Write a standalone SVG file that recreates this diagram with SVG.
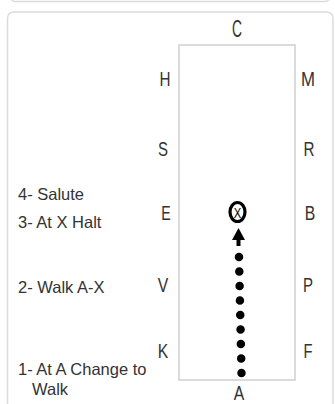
<svg xmlns="http://www.w3.org/2000/svg" width="335" height="404" viewBox="0 0 335 404">
  <style>
    .panel { fill: #fff; stroke: #dcdcdc; stroke-width: 1.5; }
    .arena { fill: none; stroke: #cfcfcf; stroke-width: 1.5; }
    .lt { font-family: "Liberation Sans", Arial, sans-serif; font-size: 19.5px; fill: #333; text-anchor: middle; }
    .big { font-size: 24px; }
    .note { font-family: "Liberation Sans", Arial, sans-serif; font-size: 16.5px; fill: #333; }
    .dots { fill: none; stroke: #000; stroke-width: 8.5; stroke-linecap: round; stroke-dasharray: 0 14.5; }
  </style>
  <defs>
    <marker id="ah" markerUnits="userSpaceOnUse" markerWidth="14" markerHeight="14" refX="0" refY="6.5" orient="auto">
      <path d="M0,0 L12,6.5 L0,13 z" fill="#000"/>
    </marker>
  </defs>
  <rect width="335" height="404" fill="#fff"/>
  <g id="top-panel">
    <rect class="panel" x="10" y="-20" width="320" height="21.5" rx="5"/>
  </g>
  <g id="main-panel">
    <rect class="panel" x="7.5" y="12" width="325.5" height="410" rx="6"/>
  </g>
  <g id="arena">
    <rect class="arena" x="179" y="45" width="116" height="335"/>
  </g>
  <g id="letters">
    <text id="C" class="lt big" x="237" y="37" textLength="10" lengthAdjust="spacingAndGlyphs">C</text>
    <text id="H" class="lt" x="165" y="86" textLength="11" lengthAdjust="spacingAndGlyphs">H</text>
    <text id="M" class="lt" x="308" y="86" textLength="14" lengthAdjust="spacingAndGlyphs">M</text>
    <text id="S" class="lt" x="163" y="156" textLength="10" lengthAdjust="spacingAndGlyphs">S</text>
    <text id="R" class="lt" x="309" y="156" textLength="11" lengthAdjust="spacingAndGlyphs">R</text>
    <text id="E" class="lt" x="166" y="220" textLength="9.5" lengthAdjust="spacingAndGlyphs">E</text>
    <text id="B" class="lt" x="310" y="220" textLength="10.5" lengthAdjust="spacingAndGlyphs">B</text>
    <text id="V" class="lt" x="163" y="292" textLength="10.5" lengthAdjust="spacingAndGlyphs">V</text>
    <text id="P" class="lt" x="308" y="292" textLength="10" lengthAdjust="spacingAndGlyphs">P</text>
    <text id="K" class="lt" x="163" y="358" textLength="10.5" lengthAdjust="spacingAndGlyphs">K</text>
    <text id="F" class="lt" x="308" y="358" textLength="9" lengthAdjust="spacingAndGlyphs">F</text>
    <text id="A" class="lt" x="239" y="399.5" font-size="22" textLength="10.5" lengthAdjust="spacingAndGlyphs">A</text>
  </g>
  <g id="X">
    <ellipse cx="237.5" cy="212" rx="7.5" ry="9.5" fill="none" stroke="#000" stroke-width="3.2"/>
    <text x="237.5" y="217.5" font-family="Liberation Sans, Arial, sans-serif" font-size="15" text-anchor="middle" fill="#000" textLength="7.5" lengthAdjust="spacingAndGlyphs">X</text>
  </g>
  <g id="connectors">
    <path class="dots" d="M241.5,373 L239,257"/>
    <path d="M238.5,246 L238.5,240" stroke="#000" stroke-width="4" fill="none" marker-end="url(#ah)"/>
  </g>
  <g id="notes">
    <text class="note" x="18" y="200">4- Salute</text>
    <text class="note" x="18" y="228">3- At X Halt</text>
    <text class="note" x="18" y="293">2- Walk A-X</text>
    <text class="note" x="18" y="375">1- At A Change to</text>
    <text class="note" x="32" y="395">Walk</text>
  </g>
</svg>
